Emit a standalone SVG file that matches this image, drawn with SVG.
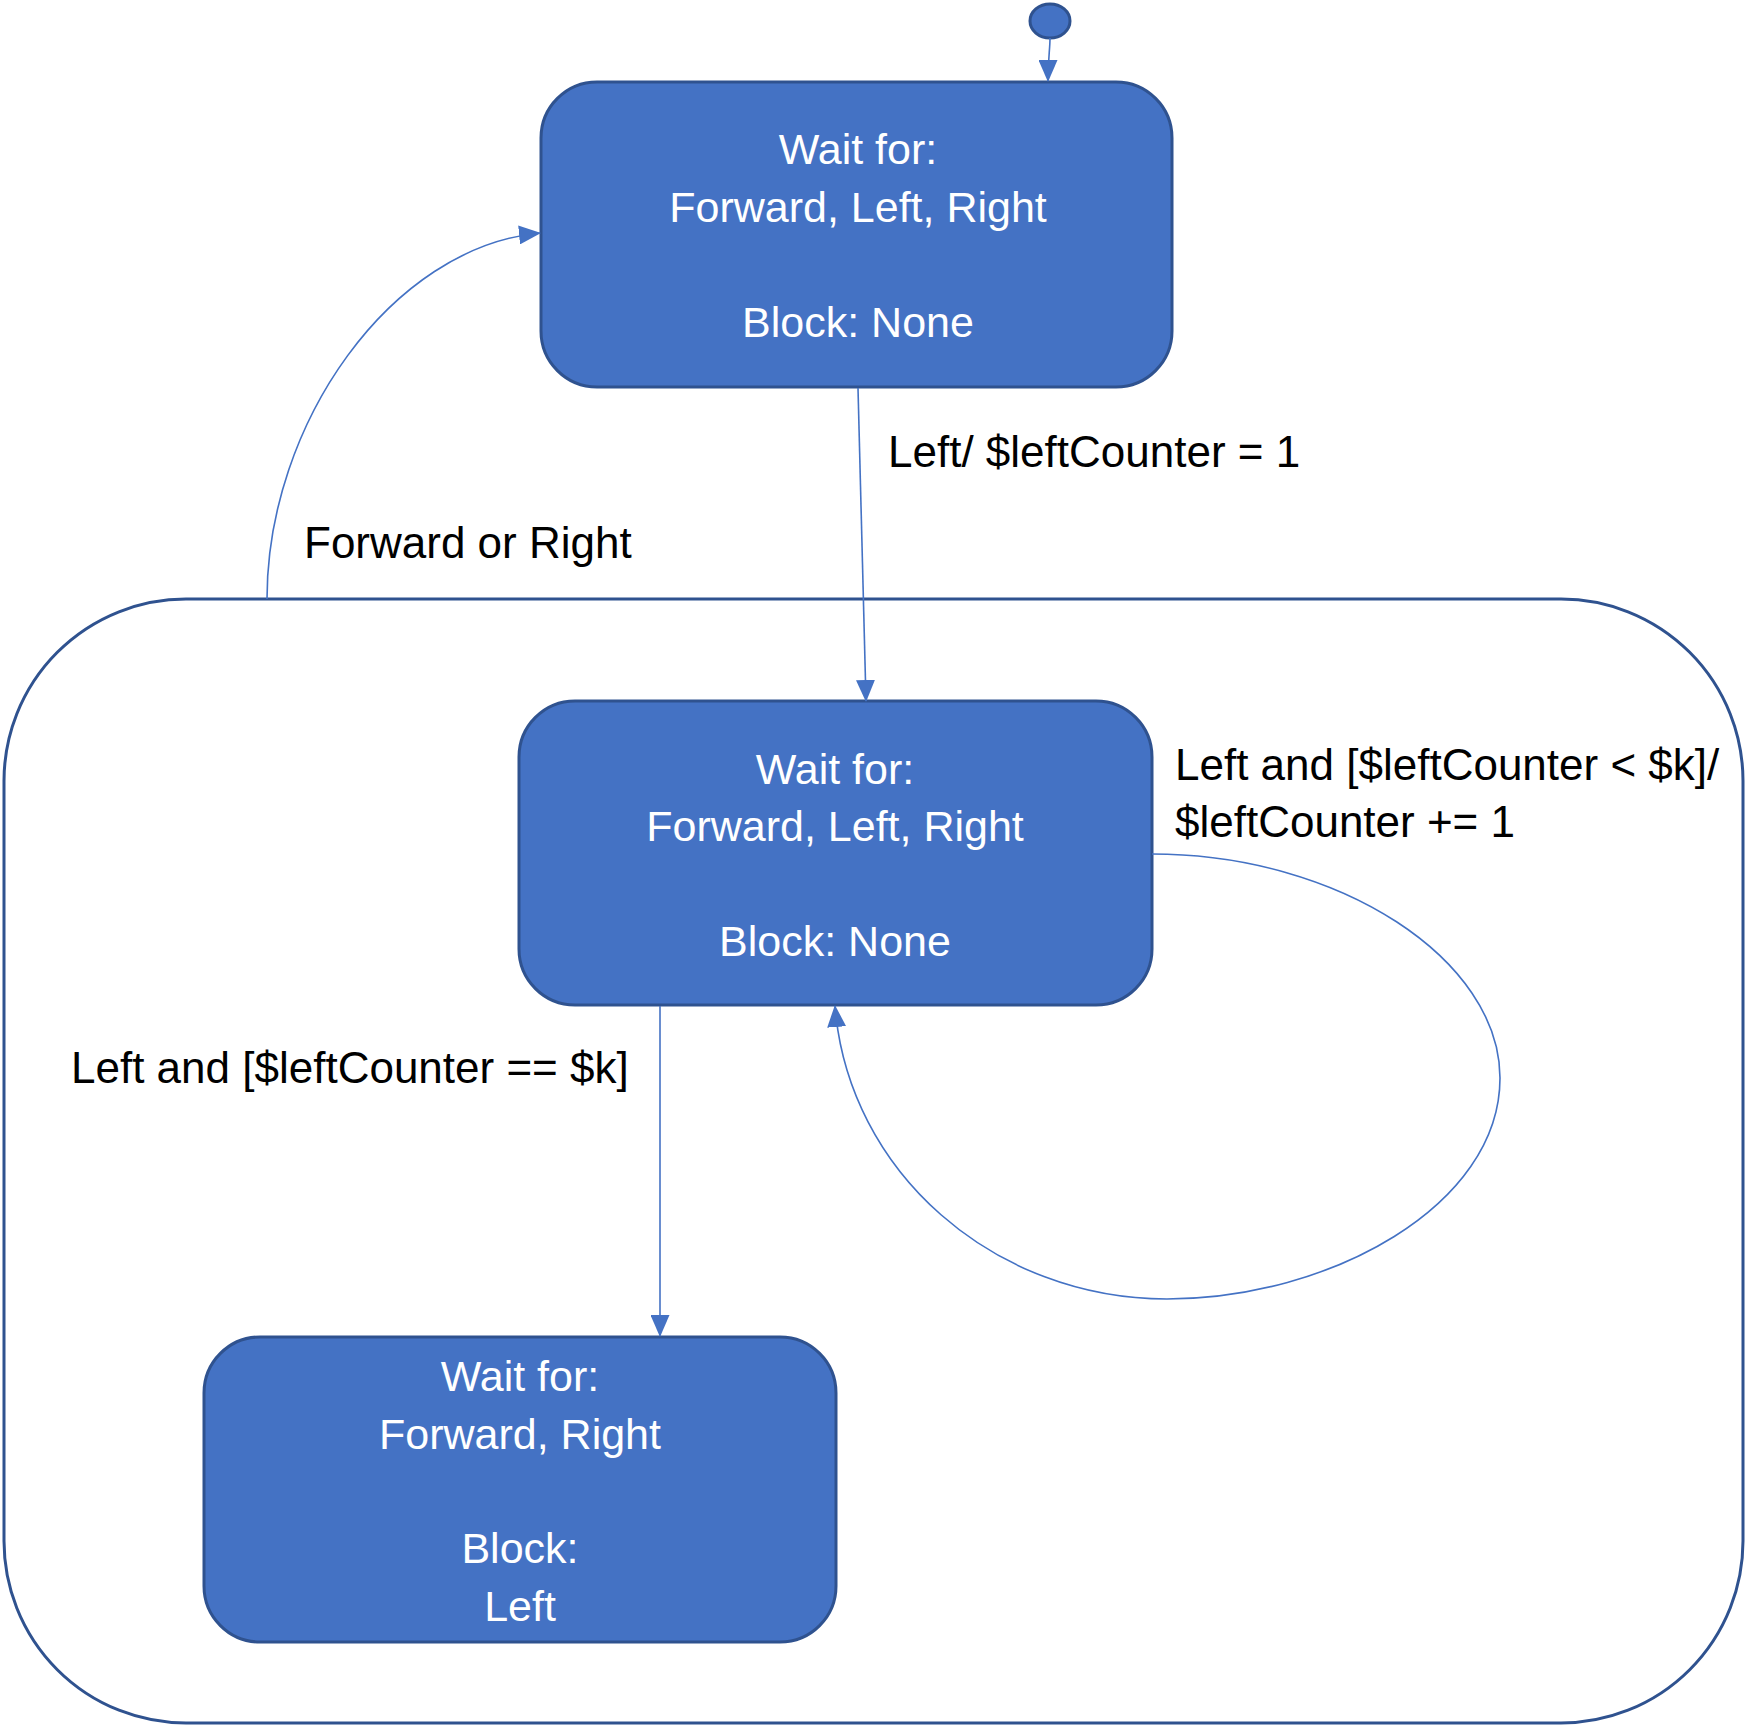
<svg xmlns="http://www.w3.org/2000/svg" width="1751" height="1731" viewBox="0 0 1751 1731">
<style>
.state{fill:#4472C4;stroke:#2F528F;stroke-width:3}
.st{font-family:"Liberation Sans",Arial,sans-serif;font-size:43px;fill:#FFFFFF;text-anchor:middle}
.lbl{font-family:"Liberation Sans",Arial,sans-serif;font-size:44px;fill:#000000}
.conn{fill:none;stroke:#4472C4;stroke-width:1.6}
</style>
<defs>
<marker id="arrB" markerWidth="22" markerHeight="19" refX="21" refY="9.5" orient="auto" markerUnits="userSpaceOnUse" viewBox="0 0 22 19">
<path d="M0,0 L22,9.5 L0,19 z" fill="#4472C4"/>
</marker>
</defs>
<rect width="1751" height="1731" fill="#FFFFFF"/>
<g id="composite">
<rect x="4" y="599" width="1739" height="1124" rx="182" ry="182" fill="none" stroke="#2F528F" stroke-width="3"/>
</g>
<g id="initial">
<ellipse cx="1050" cy="21" rx="20" ry="17" class="state"/>
</g>
<g id="s1">
<rect x="541" y="82" width="631" height="305" rx="56" ry="56" class="state"/>
<text class="st" x="858" y="164">Wait for:</text>
<text class="st" x="858" y="222">Forward, Left, Right</text>
<text class="st" x="858" y="337">Block: None</text>
</g>
<g id="s2">
<rect x="519" y="701" width="633" height="304" rx="56" ry="56" class="state"/>
<text class="st" x="835" y="784">Wait for:</text>
<text class="st" x="835" y="841">Forward, Left, Right</text>
<text class="st" x="835" y="956">Block: None</text>
</g>
<g id="s3">
<rect x="204" y="1337" width="632" height="305" rx="56" ry="56" class="state"/>
<text class="st" x="520" y="1391">Wait for:</text>
<text class="st" x="520" y="1449">Forward, Right</text>
<text class="st" x="520" y="1563">Block:</text>
<text class="st" x="520" y="1621">Left</text>
</g>
<g id="connectors">
<path class="conn" d="M1050 38 C1050 50 1048 58 1048 81" marker-end="url(#arrB)"/>
<path class="conn" d="M858 388 L866 701" marker-end="url(#arrB)"/>
<path class="conn" d="M267 599 C267 424 391 247 540 233" marker-end="url(#arrB)"/>
<path class="conn" d="M1152 854 C1340 854 1500 960 1500 1078 C1500 1206 1329 1299 1167 1299 C994 1299 848 1172 835 1006" marker-end="url(#arrB)"/>
<path class="conn" d="M660 1006 L660 1336" marker-end="url(#arrB)"/>
</g>
<g id="labels">
<text class="lbl" x="888" y="467">Left/ $leftCounter = 1</text>
<text class="lbl" x="304" y="558">Forward or Right</text>
<text class="lbl" x="1175" y="780">Left and [$leftCounter &lt; $k]/</text>
<text class="lbl" x="1175" y="837">$leftCounter += 1</text>
<text class="lbl" x="71" y="1083">Left and [$leftCounter == $k]</text>
</g>
</svg>
